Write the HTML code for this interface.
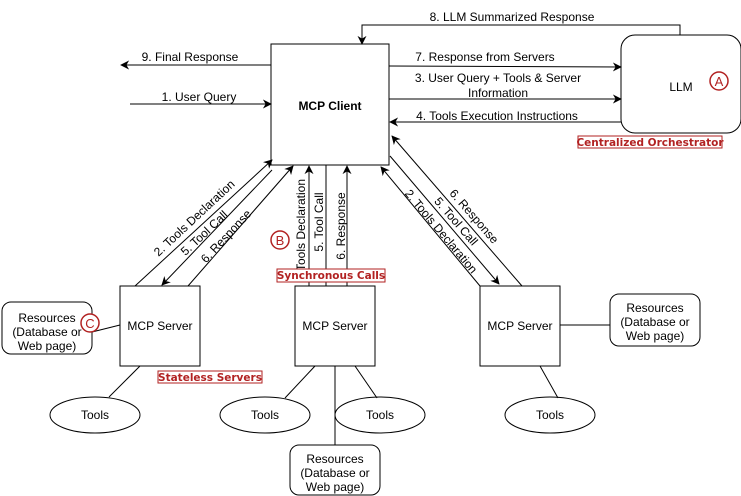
<!DOCTYPE html>
<html><head><meta charset="utf-8"><style>
html,body{margin:0;padding:0;background:#fff;}
svg{display:block;font-family:"Liberation Sans",sans-serif;}
</style></head><body>
<svg width="741" height="496" viewBox="0 0 741 496" xmlns="http://www.w3.org/2000/svg">
<defs>
<marker id="a" viewBox="0 0 10 10" refX="9" refY="5" markerWidth="9" markerHeight="9" orient="auto" markerUnits="userSpaceOnUse"><path d="M0,0 L10,5 L0,10 L3,5 Z" fill="#000"/></marker>
</defs>
<g fill="none" stroke="#000" stroke-width="1">
<rect x="271" y="44" width="118" height="121" fill="#fff"/>
<rect x="621" y="35" width="120" height="98" rx="14" fill="#fff"/>
<rect x="120" y="286" width="80" height="80"/>
<rect x="295" y="286" width="80" height="80"/>
<rect x="480" y="286" width="80" height="80"/>
<rect x="2" y="302" width="90" height="52" rx="9"/>
<rect x="610" y="294" width="90" height="52" rx="9"/>
<rect x="290" y="445" width="90" height="50" rx="9"/>
<ellipse cx="95" cy="415" rx="45" ry="18"/>
<ellipse cx="265" cy="415" rx="45" ry="18"/>
<ellipse cx="380" cy="415" rx="45" ry="18"/>
<ellipse cx="550" cy="415" rx="45" ry="18"/>
<line x1="140" y1="366" x2="109" y2="397"/>
<line x1="315" y1="366" x2="285" y2="398"/>
<line x1="335" y1="366" x2="335" y2="445"/>
<line x1="355" y1="366" x2="377" y2="398"/>
<line x1="540" y1="366" x2="558" y2="398"/>
<line x1="120" y1="325" x2="92" y2="332"/>
<line x1="560" y1="325" x2="610" y2="325"/>
<line x1="389" y1="66" x2="621" y2="67" marker-end="url(#a)"/>
<line x1="389" y1="99" x2="621" y2="99" marker-end="url(#a)"/>
<line x1="621" y1="122" x2="390" y2="122" marker-end="url(#a)"/>
<polyline points="680,35 680,25 362,25 362,44" marker-end="url(#a)"/>
<line x1="271" y1="65" x2="121" y2="65" marker-end="url(#a)"/>
<line x1="130" y1="104" x2="271" y2="104" marker-end="url(#a)"/>
<line x1="135" y1="286" x2="272" y2="160" marker-end="url(#a)"/>
<line x1="272" y1="170" x2="162" y2="285" marker-end="url(#a)"/>
<line x1="188" y1="286" x2="293" y2="166" marker-end="url(#a)"/>
<line x1="309" y1="286" x2="309" y2="166" marker-end="url(#a)"/>
<line x1="326" y1="286" x2="326" y2="165"/>
<line x1="347" y1="286" x2="347" y2="166" marker-end="url(#a)"/>
<line x1="480" y1="286" x2="381" y2="167" marker-end="url(#a)"/>
<line x1="390" y1="156" x2="499" y2="284" marker-end="url(#a)"/>
<line x1="522" y1="286" x2="392" y2="136" marker-end="url(#a)"/>
</g>
<g font-size="12" fill="#000" text-anchor="middle">
<text x="330" y="110" font-weight="bold">MCP Client</text>
<text x="681" y="91">LLM</text>
<text x="160" y="330">MCP Server</text>
<text x="335" y="330">MCP Server</text>
<text x="520" y="330">MCP Server</text>
<text x="47" y="322">Resources</text><text x="47" y="336">(Database or</text><text x="47" y="350">Web page)</text>
<text x="655" y="312">Resources</text><text x="655" y="326">(Database or</text><text x="655" y="340">Web page)</text>
<text x="335" y="463">Resources</text><text x="335" y="477">(Database or</text><text x="335" y="491">Web page)</text>
<text x="95" y="419">Tools</text><text x="265" y="419">Tools</text><text x="380" y="419">Tools</text><text x="550" y="419">Tools</text>
<text x="512" y="21">8. LLM Summarized Response</text>
<text x="190" y="61">9. Final Response</text>
<text x="199" y="101">1. User Query</text>
<text x="485" y="61">7. Response from Servers</text>
<text x="498" y="82">3. User Query + Tools &amp; Server</text>
<text x="498" y="97">Information</text>
<text x="497" y="120">4. Tools Execution Instructions</text>
<text transform="translate(197,221) rotate(-43)">2. Tools Declaration</text>
<text transform="translate(207,236) rotate(-43)">5. Tool Call</text>
<text transform="translate(229,239) rotate(-47)">6. Response</text>
<text transform="translate(305,225) rotate(-90)">Tools Declaration</text>
<text transform="translate(323,222) rotate(-90)">5. Tool Call</text>
<text transform="translate(345,226) rotate(-90)">6. Response</text>
<text transform="translate(438,234) rotate(50)">2. Tools Declaration</text>
<text transform="translate(453,224) rotate(49)">5. Tool Call</text>
<text transform="translate(471,219) rotate(49)">6. Response</text>
</g>
<g font-size="10.5" font-weight="bold" fill="#b22222" font-family="DejaVu Sans,sans-serif">
<rect x="578" y="136" width="144" height="12" fill="#fff" stroke="#b22222"/>
<text x="650" y="146" text-anchor="middle">Centralized Orchestrator</text>
<rect x="277" y="269" width="108" height="13" fill="#fff" stroke="#b22222"/>
<text x="331" y="279" text-anchor="middle">Synchronous Calls</text>
<rect x="158" y="371" width="104" height="12" fill="#fff" stroke="#b22222"/>
<text x="210" y="381" text-anchor="middle">Stateless Servers</text>
</g>
<g font-size="13" fill="#b22222" text-anchor="middle" stroke-width="1.5">
<circle cx="719" cy="81" r="9" fill="#fff" stroke="#b22222"/><text x="719" y="86">A</text>
<circle cx="280" cy="240" r="9" fill="#fff" stroke="#b22222"/><text x="280" y="245">B</text>
<circle cx="90" cy="323" r="9" fill="#fff" stroke="#b22222"/><text x="90" y="328">C</text>
</g>
</svg>
</body></html>
